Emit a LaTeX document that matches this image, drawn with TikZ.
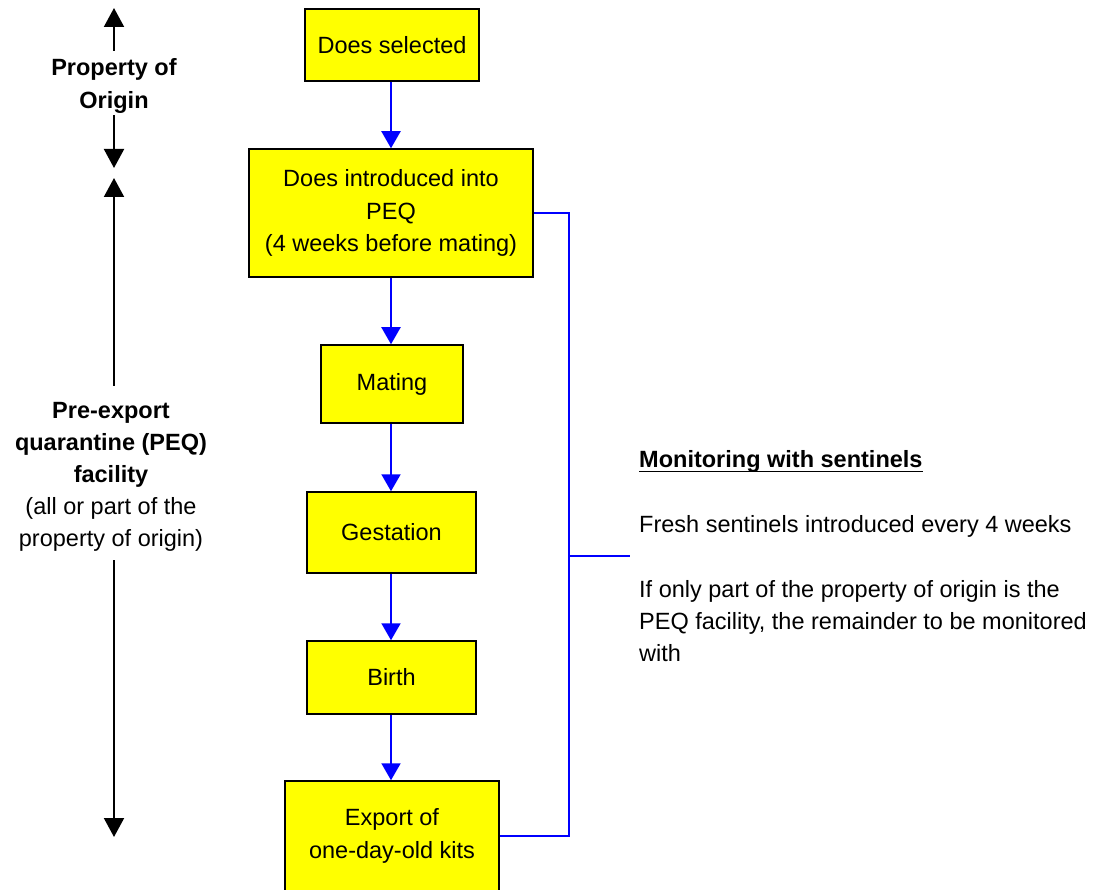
\documentclass[tikz,border=0pt]{standalone}
\usepackage{fontspec}
\setmainfont{Liberation Sans}
\usetikzlibrary{arrows.meta}
\definecolor{boxyellow}{RGB}{255,255,0}
\definecolor{flowblue}{RGB}{0,0,255}
\begin{document}
\begin{tikzpicture}[x=1pt,y=-1pt,
  box/.style={draw=black, line width=1.5pt, fill=boxyellow, inner sep=0pt, align=center,
    font=\fontsize{23.5}{32.5}\selectfont},
  flow/.style={draw=flowblue, line width=2pt, -{Triangle[width=19pt,length=17pt]}},
  side/.style={draw=black, line width=2pt, -{Triangle[width=20pt,length=19pt]}},
  bracket/.style={draw=flowblue, line width=2pt},
  txt/.style={inner sep=0pt, font=\fontsize{23.5}{32.5}\selectfont},
  lbl/.style={txt, anchor=base},
  rtxt/.style={txt, anchor=base west}]
\useasboundingbox (0,0) rectangle (1119,890);

% flow boxes
\node[box, minimum width=174pt, minimum height=72pt] (sel) at (392,45) {Does selected};
\node[box, minimum width=284pt, minimum height=128pt] (intro) at (391,213)
  {Does introduced into\\PEQ\\(4 weeks before mating)};
\node[box, minimum width=142pt, minimum height=78pt] (mate) at (392,384) {Mating};
\node[box, minimum width=169pt, minimum height=81pt] (gest) at (391.5,532.5) {Gestation};
\node[box, minimum width=169pt, minimum height=73pt] (birth) at (391.5,677.5) {Birth};
\node[box, minimum width=214pt, minimum height=110pt] (export) at (392,836)
  {Export of\\one-day-old kits};

% flow arrows
\draw[flow] (sel.south -| 391,0) -- (intro.north -| 391,0);
\draw[flow] (intro.south -| 391,0) -- (mate.north -| 391,0);
\draw[flow] (mate.south -| 391,0) -- (gest.north -| 391,0);
\draw[flow] (gest.south -| 391,0) -- (birth.north -| 391,0);
\draw[flow] (birth.south -| 391,0) -- (export.north -| 391,0);

% bracket to monitoring text
\coordinate (bt) at (569,213);
\coordinate (bb) at (569,836);
\coordinate (bm) at (569,556);
\coordinate (be) at (630,556);
\draw[bracket] (intro.east) -- (bt) -- (bb) -- (export.east);
\draw[bracket] (bm) -- (be);

% monitoring text
\node[rtxt] (head) at (639,467.5) {\textbf{Monitoring with sentinels}};
\draw[line width=1.6pt] ([yshift=-4pt]head.base west) -- ([yshift=-4pt]head.base east);
\node[rtxt] (fresh) at (639,532) {Fresh sentinels introduced every 4 weeks};
\node[rtxt] (if1) at (639,597.5) {If only part of the property of origin is the};
\node[rtxt] (if2) at (639,629.5) {PEQ facility, the remainder to be monitored};
\node[rtxt] (if3) at (639,661.5) {with};

% left labels
\node[lbl] (prop1) at (114,76) {\textbf{Property of}};
\node[lbl] (prop2) at (114,109) {\textbf{Origin}};
\node[lbl] (peq1) at (111,418) {\textbf{Pre-export}};
\node[lbl] (peq2) at (111,450) {\textbf{quarantine (PEQ)}};
\node[lbl] (peq3) at (111,482) {\textbf{facility}};
\node[lbl] (peq4) at (111,514) {(all or part of the};
\node[lbl] (peq5) at (111,546) {property of origin)};

% left arrows
\coordinate (u1s) at (114,51);
\coordinate (u1e) at (114,8);
\coordinate (d1s) at (114,115);
\coordinate (d1e) at (114,168);
\coordinate (u2s) at (114,386);
\coordinate (u2e) at (114,178);
\coordinate (d2s) at (114,560);
\coordinate (d2e) at (114,837);
\draw[side] (u1s) -- (u1e);
\draw[side] (d1s) -- (d1e);
\draw[side] (u2s) -- (u2e);
\draw[side] (d2s) -- (d2e);
\end{tikzpicture}
\end{document}
